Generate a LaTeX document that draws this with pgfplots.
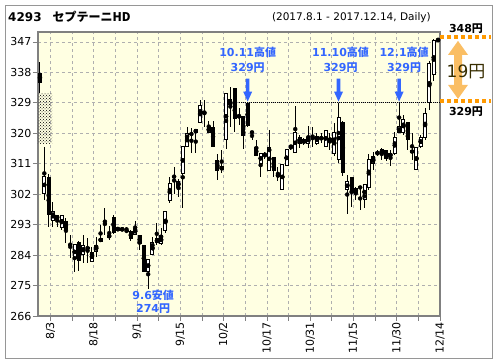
\documentclass[border=0pt]{standalone}
\usepackage{pgfplots}
\pgfplotsset{compat=1.18}
\usepackage{pgfplotstable}
\usepackage{fontspec}
\setmainfont{DejaVu Sans}
\newfontfamily\jp{Noto Sans CJK JP}
\usetikzlibrary{patterns}
\definecolor{bgy}{RGB}{255,255,226}
\definecolor{ablue}{RGB}{51,102,255}
\definecolor{orng}{RGB}{255,153,0}
\definecolor{orngl}{RGB}{250,190,100}
\definecolor{axgray}{RGB}{128,128,128}
\definecolor{gridgray}{RGB}{175,175,175}
\definecolor{framegray}{RGB}{150,150,150}
\definecolor{darkt}{RGB}{55,45,0}

\pgfplotstableread{
i O H L C
1 302.3 316.0 300.3 307.2
3 294.2 299.8 292.2 296.8
5 292.2 296.0 291.5 295.8
8 282.9 287.1 279.1 287.0
10 284.1 289.9 281.6 286.9
12 282.1 286.5 282.0 284.9
13 285.1 289.4 283.5 286.9
14 288.1 292.8 288.0 288.9
16 289.3 292.5 288.5 289.9
18 291.3 292.3 291.2 292.0
19 291.3 292.2 291.0 292.0
22 290.2 294.1 290.2 291.9
25 279.1 282.7 274.0 282.7
26 284.3 289.5 284.3 287.8
28 287.3 291.9 287.0 289.7
29 291.4 297.0 290.5 296.8
30 300.1 307.2 299.3 305.2
32 304.0 306.5 301.2 305.9
33 308.0 316.2 297.8 316.0
34 316.0 322.0 316.0 320.0
36 320.3 321.0 314.1 321.0
37 323.3 329.8 323.3 328.1
39 320.3 323.7 320.3 321.9
42 309.2 315.1 308.2 310.1
43 318.3 332.0 315.3 331.8
51 311.2 314.0 307.2 314.0
53 309.0 321.1 309.0 315.9
55 307.2 310.0 306.0 307.9
56 303.3 310.9 303.3 310.9
57 310.4 315.1 310.4 315.1
59 314.3 328.2 314.3 320.1
60 317.1 319.6 315.6 318.9
62 317.1 322.1 315.6 318.9
64 317.1 320.1 316.6 319.1
66 316.1 321.0 316.0 320.9
68 314.1 323.1 313.2 320.1
69 312.4 329.0 311.2 324.8
71 303.3 307.7 296.1 305.7
73 302.5 304.2 300.3 303.8
75 300.3 305.0 297.8 305.0
76 304.0 314.0 303.3 312.4
77 311.2 314.6 309.2 313.0
79 314.1 315.6 312.2 315.1
81 313.2 315.1 310.4 314.0
82 314.0 320.3 313.7 318.9
83 320.3 329.0 320.3 321.9
84 320.3 325.5 319.6 324.0
87 309.2 315.9 309.2 315.9
88 316.1 319.6 315.6 318.9
89 318.9 327.5 318.1 326.0
90 329.0 341.5 327.0 340.5
91 337.3 348.0 335.5 347.5
}\whitecandles

\pgfplotstableread{
i O H L C
0 337.7 341.1 331.9 335.0
2 307.2 308.0 292.4 296.0
4 295.9 296.0 292.4 294.4
6 294.1 294.9 287.5 291.4
7 287.2 289.9 283.0 287.0
9 287.9 288.3 279.4 282.2
11 286.2 289.0 281.6 286.0
15 293.3 297.8 290.0 293.1
17 295.2 296.0 290.3 290.6
20 291.3 292.4 290.8 291.0
21 291.2 291.4 288.3 288.8
23 289.9 289.9 285.5 287.3
24 287.0 287.0 279.1 279.1
27 289.0 293.6 287.0 287.5
31 307.3 310.1 302.0 307.1
35 320.0 321.5 314.1 319.6
38 326.3 329.9 322.0 326.0
40 321.9 323.7 316.1 316.1
41 312.1 313.9 306.2 309.0
44 330.0 333.8 322.0 328.3
45 333.3 333.3 320.3 324.2
46 325.2 327.5 322.5 325.0
47 325.0 325.2 315.3 319.3
48 329.0 329.0 322.0 322.3
49 320.4 320.5 318.0 320.2
50 316.1 318.1 313.2 313.2
52 313.8 314.5 312.5 313.6
54 313.0 313.0 307.2 309.0
58 316.2 316.6 315.1 316.0
61 318.3 318.5 316.5 317.1
63 318.6 322.0 316.1 318.5
65 318.6 320.1 317.1 318.4
67 318.3 320.1 315.1 318.1
70 323.3 323.5 307.5 308.2
72 307.0 307.0 298.3 302.3
74 304.1 304.2 297.3 303.9
78 314.2 315.1 313.2 314.0
80 315.1 315.1 311.7 312.4
85 323.3 323.3 315.1 318.1
86 315.1 320.1 312.2 314.1
92 348.0 348.0 347.0 347.3
}\blackcandles

\begin{document}
\begin{tikzpicture}[x=1pt,y=1pt]
\begin{axis}[
  scale only axis, width=402pt, height=284pt,
  xmin=-0.46, xmax=92.45, ymin=266, ymax=349.95,
  axis background/.style={fill=bgy},
  axis line style={axgray, line width=1.2pt},
  tick style={axgray, line width=0.8pt},
  major tick length=5pt, tick align=outside,
  xtick pos=bottom, ytick pos=left,
  xtick={2.45,7.45,12.45,17.45,22.45,27.45,32.45,37.45,42.45,47.45,52.45,57.45,62.45,67.45,72.45,77.45,82.45,87.45,92.45},
  xticklabels={8/3,,8/18,,9/1,,9/15,,10/2,,10/17,,10/31,,11/15,,11/30,,12/14},
  ytick={266,275,284,293,302,311,320,329,338,347},
  /pgf/number format/assume math mode=true,
  ticklabel style={font=\fontsize{11}{13}\selectfont},
  xticklabel style={rotate=90, anchor=east, inner sep=1pt},
  yticklabel style={inner sep=1.5pt},
  grid=major,
  major grid style={gridgray, dash pattern=on 3pt off 3pt, line width=0.8pt},
  clip=true,
]
\fill[pattern=crosshatch dots, pattern color=black] (axis cs:-0.46,317.1) rectangle (axis cs:2.78,331.9);
\draw[black, line width=0.8pt, dash pattern=on 1pt off 1pt] (axis cs:46,329) -- (axis cs:92.45,329);
% wicks
\addplot[only marks, mark=none, forget plot, error bars/.cd, y dir=both, y explicit, error mark=none, error bar style={black, line width=1pt}]
  table[x=i, y expr={(\thisrow{H}+\thisrow{L})/2}, y error expr={(\thisrow{H}-\thisrow{L})/2}] {\blackcandles};
\addplot[only marks, mark=none, forget plot, error bars/.cd, y dir=both, y explicit, error mark=none, error bar style={black, line width=1pt}]
  table[x=i, y expr={(\thisrow{H}+\thisrow{L})/2}, y error expr={(\thisrow{H}-\thisrow{L})/2}] {\whitecandles};
% black bodies
\addplot[only marks, mark=none, forget plot, error bars/.cd, y dir=both, y explicit, error mark=none, error bar style={black, line width=4pt}]
  table[x=i, y expr={(\thisrow{O}+\thisrow{C})/2}, y error expr={max(abs(\thisrow{O}-\thisrow{C})/2,0.3)}] {\blackcandles};
% white bodies: outline then fill
\addplot[only marks, mark=none, forget plot, error bars/.cd, y dir=both, y explicit, error mark=none, error bar style={black, line width=4pt}]
  table[x=i, y expr={(\thisrow{O}+\thisrow{C})/2}, y error expr={max(abs(\thisrow{O}-\thisrow{C})/2+0.15,0.45)}] {\whitecandles};
\addplot[only marks, mark=none, forget plot, error bars/.cd, y dir=both, y explicit, error mark=none, error bar style={white, line width=2pt}]
  table[x=i, y expr={(\thisrow{O}+\thisrow{C})/2}, y error expr={max(abs(\thisrow{O}-\thisrow{C})/2-0.15,0.15)}] {\whitecandles};
\coordinate (O) at (axis cs:-0.46,266);
\coordinate (pA) at (axis cs:48,329);
\coordinate (pB) at (axis cs:69,329);
\coordinate (pC) at (axis cs:83,329);
\coordinate (pL) at (axis cs:25,274);
\coordinate (pM) at (axis cs:92.45,329);
\end{axis}
% frame and titles, placed relative to the axis box corner (38,48) of a 496x364 canvas
\begin{scope}[shift={(O)}, xshift=-38pt, yshift=-48pt]
  \path (0,0) rectangle (496,364);
  \draw[framegray, line width=1pt] (5.5,5.5) rectangle (492.5,358.5);
  \node[anchor=west, inner sep=0pt, font=\fontsize{12}{14}\selectfont\bfseries] at (8,347.5) {4293\hspace{11pt}{\jp\bfseries セプテーニHD}};
  \node[anchor=east, inner sep=0pt, font=\fontsize{10.5}{12}\selectfont] at (431,346) {(2017.8.1 - 2017.12.14, Daily)};
\end{scope}
% high arrows
\foreach \p/\lab/\dx in {pA/10.11/0, pB/11.10/2, pC/12.1/5}{
  \begin{scope}[shift={(\p)}]
    \fill[ablue] (0,1.3) -- (-4.5,11.3) -- (-1.8,11.3) -- (-1.8,24.3) -- (1.8,24.3) -- (1.8,11.3) -- (4.5,11.3) -- cycle;
    \node[ablue, font=\fontsize{11}{13}\selectfont\bfseries, inner sep=0pt] at (\dx,51) {\lab{\jp\bfseries 高値}};
    \node[ablue, font=\fontsize{11}{13}\selectfont\bfseries, inner sep=0pt] at (\dx,35) {329{\jp\bfseries 円}};
  \end{scope}
}
% low label
\begin{scope}[shift={(pL)}]
  \node[ablue, font=\fontsize{11}{13}\selectfont\bfseries, inner sep=0pt] at (5,-6.3) {9.6{\jp\bfseries 安値}};
  \node[ablue, font=\fontsize{11}{13}\selectfont\bfseries, inner sep=0pt] at (5,-19.5) {274{\jp\bfseries 円}};
\end{scope}
% right side range annotation
\begin{scope}[shift={(pM)}]
  \fill[orngl] (18,62) -- (28,48) -- (22,48) -- (22,18) -- (28,18) -- (18,4) -- (8,18) -- (14,18) -- (14,48) -- (8,48) -- cycle;
  \draw[orng, line width=4pt, dash pattern=on 4pt off 3pt] (0,2.1) -- (51,2.1);
  \draw[orng, line width=4pt, dash pattern=on 4pt off 3pt] (0,65.4) -- (51,65.4);
  \node[darkt, font=\fontsize{17}{19}\selectfont, inner sep=0pt] at (26,31) {19{\jp 円}};
  \node[black, font=\fontsize{11}{13}\selectfont\bfseries, inner sep=0pt] at (26,74.3) {348{\jp\bfseries 円}};
  \node[black, font=\fontsize{11}{13}\selectfont\bfseries, inner sep=0pt] at (26,-8.7) {329{\jp\bfseries 円}};
\end{scope}
\end{tikzpicture}
\end{document}
